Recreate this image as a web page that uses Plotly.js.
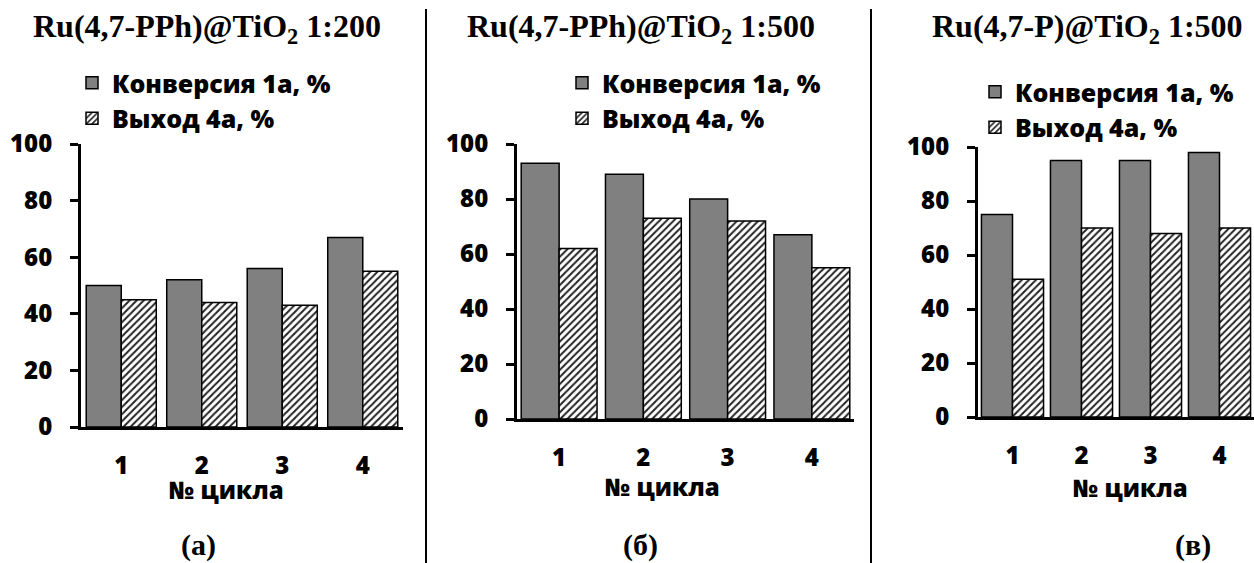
<!DOCTYPE html>
<html>
<head>
<meta charset="utf-8">
<script src="https://cdn.plot.ly/plotly-3.0.1.min.js"></script>
<style>html,body{margin:0;padding:0;background:#fff;}#chart{width:1254px;height:563px;}</style>
</head>
<body>
<div id="chart"></div>
<script>
// ---- data ----
const cycles = ['1', '2', '3', '4'];
const seriesNames = ['Конверсия 1а, %', 'Выход 4а, %'];
const convA = [50, 52, 56, 67];
const yieldA = [45, 44, 43, 55];
const convB = [93, 89, 80, 67];
const yieldB = [62, 73, 72, 55];
const convC = [75, 95, 95, 98];
const yieldC = [51, 70, 68, 70];
const panelTitles = ['Ru(4,7-PPh)@TiO<sub>2</sub> 1:200', 'Ru(4,7-PPh)@TiO<sub>2</sub> 1:500', 'Ru(4,7-P)@TiO<sub>2</sub> 1:500'];
const panelLabels = ['(а)', '(б)', '(в)'];
const xTitle = '№ цикла';
const yTicks = [0, 20, 40, 60, 80, 100];

// ---- helpers ----
const W = 1254, H = 563;
const px = v => v / W;
const py = v => 1 - v / H;
const sansBold = {family: 'Open Sans', size: 24, color: '#000', weight: 800};
const legendFont = {family: 'Open Sans', size: 25, color: '#000', weight: 800};
const serifBold = {family: 'Liberation Serif, Times New Roman, serif', size: 32, color: '#000', weight: 700};
const labelFont = {family: 'Liberation Serif, Times New Roman, serif', size: 30, color: '#000', weight: 700};

function convTrace(y, xa, ya, lg, w) {
  return {type: 'bar', x: cycles, y: y, xaxis: xa, yaxis: ya, legend: lg, name: seriesNames[0],
    width: w, offset: -w,
    marker: {color: '#808080', line: {color: '#000', width: 1.5}}, hoverinfo: 'y'};
}
function yieldTrace(y, xa, ya, lg, w) {
  return {type: 'bar', x: cycles, y: y, xaxis: xa, yaxis: ya, legend: lg, name: seriesNames[1],
    width: w, offset: 0,
    marker: {color: '#ffffff', line: {color: '#000', width: 1.5},
      pattern: {shape: '/', fgcolor: '#222', bgcolor: '#fff', size: 5, solidity: 0.4}}, hoverinfo: 'y'};
}

const data = [
  convTrace(convA, 'x', 'y', 'legend', 0.435), yieldTrace(yieldA, 'x', 'y', 'legend', 0.435),
  convTrace(convB, 'x2', 'y2', 'legend2', 0.45), yieldTrace(yieldB, 'x2', 'y2', 'legend2', 0.45),
  convTrace(convC, 'x3', 'y3', 'legend3', 0.45), yieldTrace(yieldC, 'x3', 'y3', 'legend3', 0.45)
];

function xAxis(d0, d1, anchor) {
  return {domain: [px(d0), px(d1)], anchor: anchor, type: 'category', range: [-0.5, 3.5],
    showline: true, linecolor: '#000', linewidth: 3, ticks: '', showgrid: false, zeroline: false,
    tickfont: sansBold, ticklabelstandoff: 15, fixedrange: true};
}
function yAxis(y0, y1, anchor) {
  return {domain: [py(y0), py(y1)], anchor: anchor, range: [0, 100], tickvals: yTicks,
    showline: true, linecolor: '#000', linewidth: 3, ticks: 'outside', ticklen: 8, tickwidth: 3,
    tickcolor: '#000', showgrid: false, zeroline: false, tickfont: sansBold, ticklabelstandoff: 13, fixedrange: true};
}
function legendAt(x, y) {
  return {x: px(x), y: py(y), xanchor: 'left', yanchor: 'top', bgcolor: 'rgba(0,0,0,0)',
    font: legendFont, itemclick: false, itemdoubleclick: false};
}

const annotations = [];
const titleX = [207, 641, 1087];
const xTitlePos = [[226, 489], [662, 486], [1130, 487]];
const labelX = [198, 640, 1193];
for (let i = 0; i < 3; i++) {
  annotations.push({xref: 'paper', yref: 'paper', x: px(titleX[i]), y: py(29), text: panelTitles[i],
    showarrow: false, xanchor: 'center', yanchor: 'middle', font: serifBold});
  annotations.push({xref: 'paper', yref: 'paper', x: px(xTitlePos[i][0]), y: py(xTitlePos[i][1]), text: xTitle,
    showarrow: false, xanchor: 'center', yanchor: 'middle', font: sansBold});
  annotations.push({xref: 'paper', yref: 'paper', x: px(labelX[i]), y: py(545), text: panelLabels[i],
    showarrow: false, xanchor: 'center', yanchor: 'middle', font: labelFont});
}

const layout = {
  width: W, height: H, margin: {l: 0, r: 0, t: 0, b: 0},
  paper_bgcolor: '#fff', plot_bgcolor: 'rgba(0,0,0,0)', barmode: 'overlay',
  showlegend: true,
  xaxis: xAxis(81, 403, 'y'), yaxis: yAxis(427, 144, 'x'),
  xaxis2: xAxis(517, 854, 'y2'), yaxis2: yAxis(419, 144, 'x2'),
  xaxis3: xAxis(978, 1254, 'y3'), yaxis3: yAxis(417, 147, 'x3'),
  legend: legendAt(72, 60), legend2: legendAt(562, 60), legend3: legendAt(975, 69),
  annotations: annotations,
  shapes: [
    {type: 'line', xref: 'paper', yref: 'paper', x0: px(426), x1: px(426), y0: py(9), y1: 0, line: {color: '#000', width: 2}},
    {type: 'line', xref: 'paper', yref: 'paper', x0: px(871), x1: px(871), y0: py(9), y1: 0, line: {color: '#000', width: 2}}
  ]
};

Plotly.newPlot('chart', data, layout, {displayModeBar: false, staticPlot: true});
</script>
</body>
</html>
